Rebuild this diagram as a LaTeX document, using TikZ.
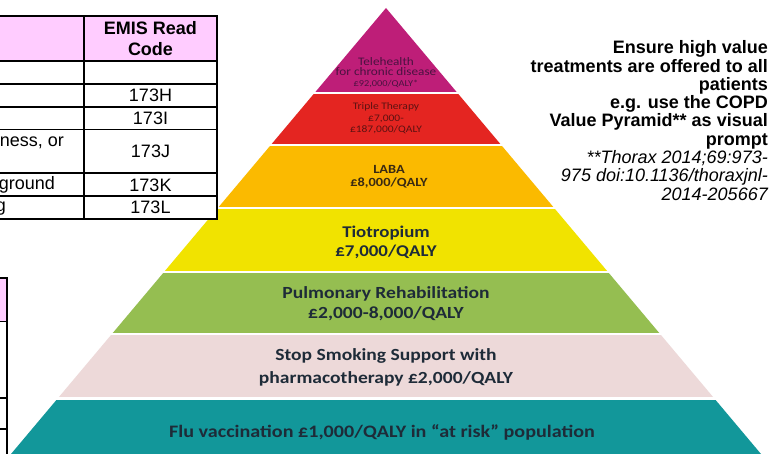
\documentclass[tikz,border=0pt]{standalone}
\usepackage{fontspec}
\setmainfont{Liberation Sans}
\newfontfamily\pyrfont[FakeStretch=1.15]{Carlito}
\definecolor{telecol}{HTML}{BE1E78}
\definecolor{triplecol}{HTML}{E42521}
\definecolor{labacol}{HTML}{FBBA00}
\definecolor{tiocol}{HTML}{F1E300}
\definecolor{pulmcol}{HTML}{95BE51}
\definecolor{smokecol}{HTML}{EDD9D9}
\definecolor{flucol}{HTML}{12979A}
\definecolor{headcol}{HTML}{FFCCFF}
\definecolor{pyrtext}{HTML}{1E2B38}
\definecolor{teletext}{HTML}{4A1240}
\definecolor{tripletext}{HTML}{5C1212}
\definecolor{labatext}{HTML}{3A2A12}
\begin{document}
\begin{tikzpicture}[x=1pt,y=-1pt,
  tabline/.style={line width=1.8pt},
  cell/.style={inner sep=0pt, font=\fontsize{18}{21}\selectfont},
  band/.style={inner sep=0pt, align=center, text=pyrtext, font=\pyrfont\bfseries\fontsize{17}{20}\selectfont},
  note/.style={inner sep=0pt, align=right, font=\fontsize{18}{18.3}\selectfont}]
\useasboundingbox (0,0) rectangle (771,454);
\fill[white] (0,0) rectangle (771,454);
\begin{scope}
\clip (386,8) -- (761,454) -- (11,454) -- cycle;
\foreach \ya/\yb/\col in {0/92/telecol, 94.5/144/triplecol, 146.5/207/labacol, 209.5/271/tiocol, 273.5/332.5/pulmcol, 335/397/smokecol, 400/454/flucol}
  \fill[\col] (0,\ya) rectangle (771,\yb);
\end{scope}
\node[band, text=teletext, font=\pyrfont\fontsize{11.5}{10.8}\selectfont] (tele) at (386,72.5) {Telehealth\\for chronic disease\\{\fontsize{9}{10}\selectfont £92,000/QALY*}};
\node[band, text=tripletext, font=\pyrfont\fontsize{10}{11.5}\selectfont] (triple) at (386,118.5) {Triple Therapy\\£7,000-\\£187,000/QALY};
\node[band, text=labatext, font=\pyrfont\bfseries\fontsize{12.5}{12.8}\selectfont] (laba) at (389,177) {LABA\\£8,000/QALY};
\node[band, font=\pyrfont\bfseries\fontsize{16.4}{19}\selectfont] (tio) at (386,242.5) {Tiotropium\\£7,000/QALY};
\node[band] (pulm) at (386,304) {Pulmonary Rehabilitation\\£2,000-8,000/QALY};
\node[band, font=\pyrfont\bfseries\fontsize{17}{22.5}\selectfont] (smoke) at (386,367.5) {Stop Smoking Support with\\pharmacotherapy £2,000/QALY};
\node[band, font=\pyrfont\bfseries\fontsize{17.5}{20}\selectfont] (flu) at (382,432) {Flu vaccination £1,000/QALY in “at risk” population};
\fill[white] (0,16) rectangle (217,219);
\fill[headcol] (0,16) rectangle (217,61);
\draw[tabline] (0,16) -- (217,16) -- (217,219) -- (0,219);
\foreach \y in {61,84,107,129.5,173,196}
  \draw[tabline] (0,\y) -- (217,\y);
\draw[tabline] (84,16) -- (84,219);
\fill[headcol] (0,278) rectangle (7,321.5);
\draw[tabline] (0,278) -- (7,278) -- (7,454);
\foreach \y in {321.5,398,429}
  \draw[tabline] (0,\y) -- (7,\y);
\node[cell, align=center, font=\bfseries\fontsize{18}{21}\selectfont] (emis) at (150.5,38.5) {EMIS Read\\Code};
\node[cell] (codeh) at (150.5,95.5) {173H};
\node[cell] (codei) at (150.5,118) {173I};
\node[cell] (codej) at (150.5,151) {173J};
\node[cell] (codek) at (150.5,185) {173K};
\node[cell] (codel) at (150.5,207.5) {173L};
\node[cell, anchor=base east] (ness) at (64,146.5) {ness, or};
\node[cell, anchor=base east] (ground) at (55,189.5) {ground};
\node[cell, anchor=base east] (gtail) at (6,211.5) {g};
\node[note, anchor=north east] (prompt) at (768,40.5) {\bfseries Ensure high value\\\bfseries treatments are offered to all\\\bfseries patients\\\bfseries e.g. use the COPD\\\bfseries Value Pyramid** as visual\\\bfseries prompt\\\itshape **Thorax 2014;69:973-\\\itshape 975 doi:10.1136/thoraxjnl-\\\itshape 2014-205667};
\end{tikzpicture}
\end{document}
